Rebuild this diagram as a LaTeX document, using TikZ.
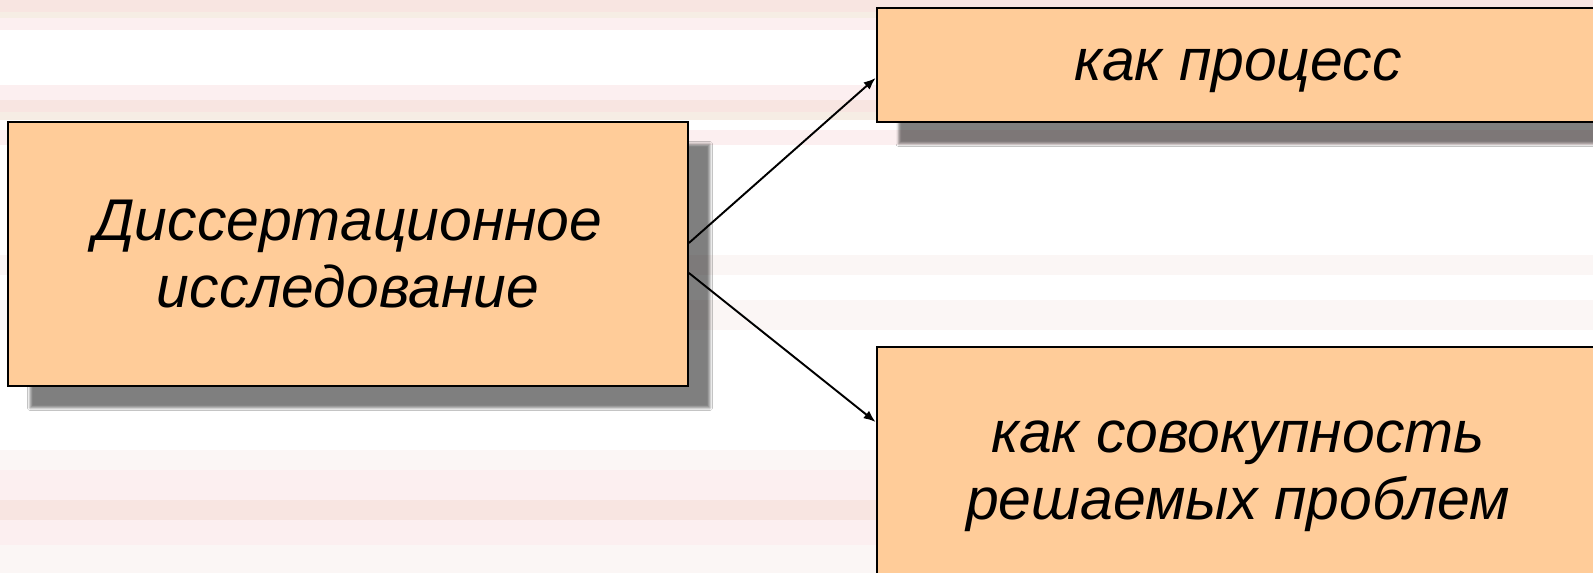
\documentclass[tikz,border=0pt]{standalone}
\usepackage{fontspec}
\setmainfont{Liberation Sans}
\usetikzlibrary{arrows.meta,shadows.blur}
\definecolor{peach}{RGB}{255,204,153}
\definecolor{pinka}{RGB}{248,229,225}
\definecolor{pinkb}{RGB}{252,239,240}
\definecolor{beige}{RGB}{246,237,228}
\definecolor{faint}{RGB}{251,246,245}
\tikzset{
	box/.style={draw=black,line width=1.1pt,fill=peach,align=center,inner sep=0pt,
		font=\fontsize{33.5}{38.5}\selectfont\itshape,
		blur shadow={shadow xshift=0.44cm,shadow yshift=-0.44cm,shadow blur radius=0.05cm,shadow opacity=50}},
	link/.style={black,-{Latex[length=2.4mm,width=1.9mm]},line width=1.1pt}
}

\begin{document}
\begin{tikzpicture}[x=0.02cm,y=-0.02cm]
	\useasboundingbox (0,0) rectangle (1593,573);
	\clip (0,0) rectangle (1593,573);
	% striped background
	\fill[white] (0,0) rectangle (1593,573);
	\foreach \a/\b/\c in {0/12/pinka,12/18/beige,18/30/pinkb,85/100/pinkb,100/112/pinka,112/120/beige,
		130/145/pinkb,255/275/faint,300/330/faint,450/470/faint,470/500/pinkb,500/520/pinka,520/545/pinkb,545/573/faint}
		\fill[\c] (0,\a) rectangle (1593,\b);

	\node[box,minimum width=13.6cm,minimum height=5.28cm] (dis) at (348,254) {Диссертационное\\исследование};
	\node[box,minimum width=14.46cm,minimum height=2.28cm,text depth=0pt] (proc) at (1238,65) {как процесс};
	\node[box,minimum width=14.46cm,minimum height=4.92cm,text depth=0pt] (prob) at (1238,470) {как совокупность\\решаемых проблем};

	\draw[link] ([yshift=0.22cm]dis.east) -- ([yshift=-0.26cm]proc.west);
	\draw[link] ([yshift=-0.38cm]dis.east) -- ([yshift=0.96cm]prob.west);
\end{tikzpicture}
\end{document}
